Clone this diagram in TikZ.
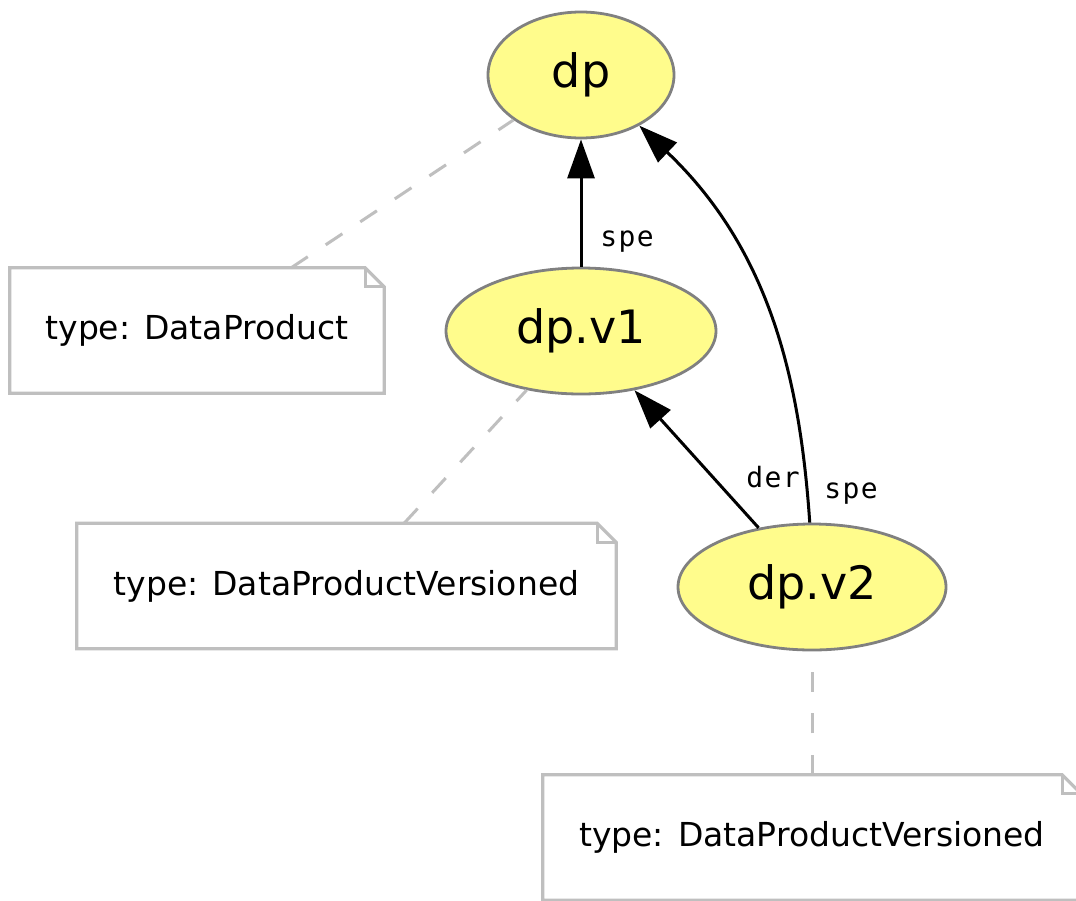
\documentclass[tikz,border=0pt]{standalone}
\usepackage{fontspec}
\setmainfont{DejaVu Sans}
\newfontfamily\lblfont[LetterSpace=5]{DejaVu Sans Mono}
\usetikzlibrary{arrows.meta,shapes.geometric}
\definecolor{nodefill}{RGB}{255,252,140}
\definecolor{nodeline}{RGB}{128,128,128}
\definecolor{notegray}{RGB}{191,191,191}
\begin{document}
\begin{tikzpicture}[x=1pt,y=-1pt,
  ell/.style={ellipse, draw=nodeline, fill=nodefill, line width=2.8pt, inner sep=0pt, minimum height=126pt, font=\fontsize{46}{55}\selectfont},
  notebox/.style={rectangle, inner sep=0pt, minimum height=125pt, font=\fontsize{33}{40}\selectfont},
  notec/.style={draw=notegray, line width=3.2pt, line join=miter},
  link/.style={draw=notegray, line width=3pt, dash pattern=on 20pt off 21.5pt},
  edgearrow/.style={draw=black, line width=3pt, -{Triangle[length=39pt,width=27pt]}},
  lbl/.style={font=\lblfont\fontsize{28}{33}\selectfont, inner sep=0pt}]
\clip (0,0) rectangle (1076,900);
\fill[white] (0,0) rectangle (1076,900);

% nodes
\node[ell, minimum width=186pt] (dp) at (581,75) {dp};
\node[ell, minimum width=270pt] (v1) at (581,331) {dp.v1};
\node[ell, minimum width=268pt] (v2) at (812,587) {dp.v2};

% notes
\node[notebox, minimum width=374pt] (n1) at (197,330.5) {type: DataProduct};
\node[notebox, minimum width=539pt] (n2) at (346.5,586) {type: DataProductVersioned};
\node[notebox, minimum width=538pt] (n3) at (812,837.5) {type: DataProductVersioned};

\foreach \n in {n1,n2,n3}{
  \draw[notec] (\n.north west) -- ([xshift=-19pt]\n.north east) -- ([yshift=-19pt]\n.north east)
     -- (\n.south east) -- (\n.south west) -- cycle;
  \draw[notec] ([xshift=-19pt]\n.north east) |- ([yshift=-19pt]\n.north east);
}

% dashed links
\draw[link] (n1) -- (dp);
\draw[link] (n2) -- (v1);
\draw[link] (n3) -- (v2);

% edges
\draw[edgearrow] (v1) -- (dp);
\draw[edgearrow] (v2) -- (v1);
\draw[edgearrow] (v2.92) .. controls (800,380) and (770,250) .. (dp.-41);

% labels
\node[lbl] (l1) at (627,242) {spe};
\node[lbl] (l2) at (773,477) {der};
\node[lbl] (l3) at (851,494) {spe};
\end{tikzpicture}
\end{document}
